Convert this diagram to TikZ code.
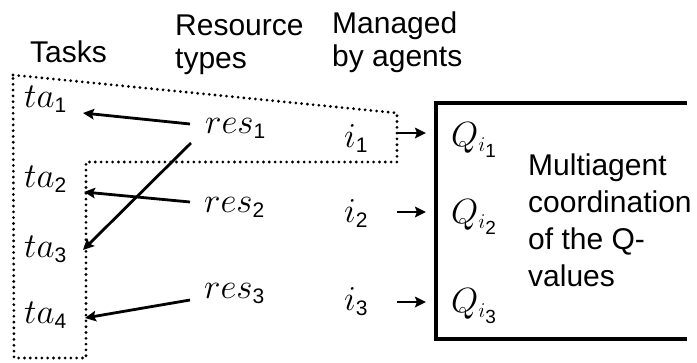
\RequirePackage{fix-cm}
\documentclass[tikz,border=0pt]{standalone}
\usepackage{amsmath}
\usepackage{fontspec}
\setmainfont{Liberation Sans}
\setsansfont{Liberation Sans}
\usetikzlibrary{arrows.meta}
% math at 35pt, sub- and sub-subscripts kept large
\DeclareMathSizes{35}{35}{21}{19}
\newcommand\dg[1]{\text{\sffamily #1}}

\begin{document}
\begin{tikzpicture}[x=1pt,y=-1pt,
  lbl/.style={inner sep=0pt, anchor=base west, font=\fontsize{30}{34}\selectfont},
  sym/.style={inner sep=0pt, anchor=base west, font=\fontsize{35}{40}\selectfont},
  link/.style={line width=2.8pt, -{Stealth[length=11pt,width=10.5pt,inset=2pt]}},
  grp/.style={line width=3.1pt, dash pattern=on 0pt off 5.8pt, line cap=round},
  frame/.style={line width=3.2pt, line cap=butt, line join=miter},
  panel/.style={inner sep=0pt, outer sep=0pt, anchor=north west,
                minimum width=251pt, minimum height=236pt}]
\useasboundingbox (0,0) rectangle (697,362);

% column headings
\node[lbl] (tasks) at (30,62) {Tasks};
\node[lbl] (restypes) at (175,35) {\vtop{\baselineskip=33pt\hbox{Resource}\hbox{types}}};
\node[lbl] (managed) at (332,33) {\vtop{\baselineskip=33.5pt\hbox{Managed}\hbox{by agents}}};

% group of tasks and resources handled by agent i1
\draw[grp] (13,75) -- (397,113) -- (397,162) -- (86,162) -- (86,358) -- (14,358) -- cycle;

% tasks
\node[sym] (ta1) at (24,107) {$ta_{\dg{1}}$};
\node[sym] (ta2) at (24,187) {$ta_{\dg{2}}$};
\node[sym] (ta3) at (24,257) {$ta_{\dg{3}}$};
\node[sym] (ta4) at (24,323) {$ta_{\dg{4}}$};

% resource types
\node[sym] (res1) at (205,133) {$res_{\dg{1}}$};
\node[sym] (res2) at (204,212) {$res_{\dg{2}}$};
\node[sym] (res3) at (204,298) {$res_{\dg{3}}$};

% agents
\node[sym] (i1) at (344,147) {$i_{\dg{1}}$};
\node[sym] (i2) at (344,222) {$i_{\dg{2}}$};
\node[sym] (i3) at (344,310) {$i_{\dg{3}}$};

% coordination panel, open on its right side
\node[panel] (qbox) at (436,103) {};
\draw[frame] (qbox.north east) -- (qbox.north west) -- (qbox.south west) -- (qbox.south east);
\node[sym] (Q1) at (451,146) {$Q_{i_{\dg{1}}}$};
\node[sym] (Q2) at (451,223) {$Q_{i_{\dg{2}}}$};
\node[sym] (Q3) at (451,312) {$Q_{i_{\dg{3}}}$};
\node[lbl] (coordtext) at (528,175)
  {\vtop{\baselineskip=37.2pt\hbox{Multiagent}\hbox{coordination}\hbox{of the Q-}\hbox{values}}};

% resources assigned to tasks
\draw[link] ([shift={(-15,-9)}]res1.base west) -- ([shift={(59,6)}]ta1.base west);
\draw[link] ([shift={(-14,10)}]res1.base west) -- ([shift={(59,-7)}]ta3.base west);
\draw[link] ([shift={(-14,-10)}]res2.base west) -- ([shift={(60,5)}]ta2.base west);
\draw[link] ([shift={(-14,2)}]res3.base west) -- ([shift={(61,-5)}]ta4.base west);

% agents feed their Q-values
\draw[link] ([shift={(53,-14)}]i1.base west) -- ([shift={(-25,-13)}]Q1.base west);
\draw[link] ([shift={(53,-10)}]i2.base west) -- ([shift={(-25,-11)}]Q2.base west);
\draw[link] ([shift={(53,-8)}]i3.base west) -- ([shift={(-25,-10)}]Q3.base west);
\end{tikzpicture}
\end{document}
